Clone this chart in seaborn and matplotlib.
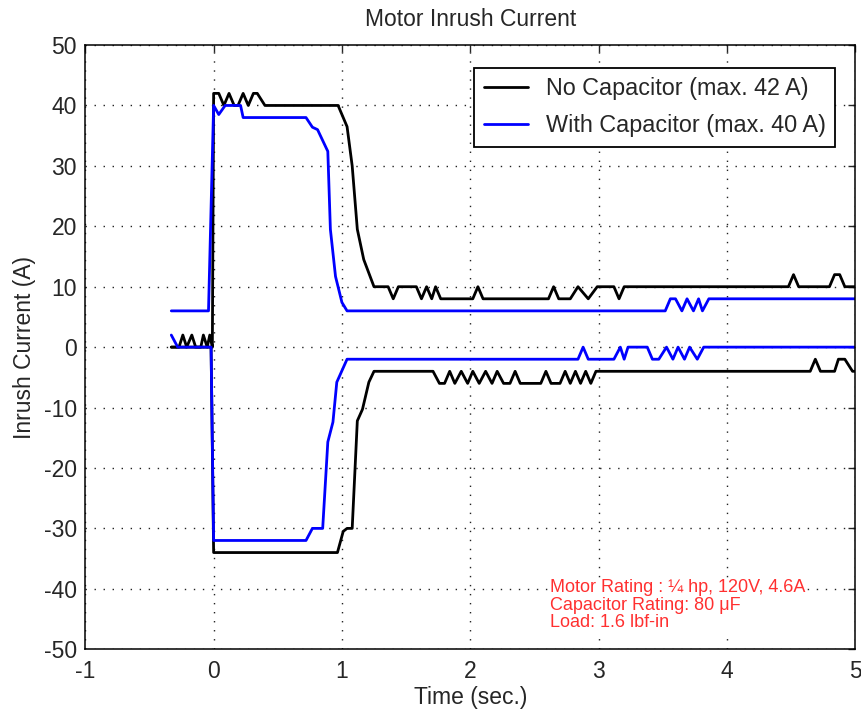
import numpy as np
import pandas as pd
import matplotlib
matplotlib.use('Agg')
import matplotlib.pyplot as plt
import seaborn as sns

# No capacitor, upper and lower envelopes
nc_hi_t = [-0.33, -0.27, -0.24, -0.21, -0.17, -0.14, -0.10, -0.08, -0.05, -0.03, -0.01,
           0.0, 0.04, 0.08, 0.12, 0.16, 0.19, 0.23, 0.27, 0.31, 0.34, 0.40, 0.97,
           1.04, 1.08, 1.12, 1.17, 1.25, 1.36, 1.40, 1.44, 1.58, 1.62, 1.66, 1.70, 1.73,
           1.77, 2.02, 2.06, 2.10, 2.61, 2.65, 2.69, 2.78, 2.84, 2.92, 2.99, 3.12, 3.16,
           3.20, 4.48, 4.52, 4.56, 4.80, 4.84, 4.88, 4.92, 5.0]
nc_hi_v = [0, 0, 2, 0, 2, 0, 0, 2, 0, 2, 0,
           42, 42, 40, 42, 40, 40, 42, 40, 42, 42, 40, 40,
           36.5, 30, 19.5, 14.5, 10, 10, 8, 10, 10, 8, 10, 8, 10,
           8, 8, 10, 8, 8, 10, 8, 8, 10, 8, 10, 10, 8,
           10, 10, 12, 10, 10, 12, 12, 10, 10]

nc_lo_t = [-0.33, -0.02, 0.0, 0.965, 1.01, 1.04, 1.08, 1.12, 1.16, 1.21, 1.25, 1.71,
           1.76, 1.80, 1.84, 1.88, 1.93, 1.98, 2.02, 2.07, 2.12, 2.17, 2.21, 2.26,
           2.31, 2.35, 2.39, 2.55, 2.59, 2.63, 2.70, 2.74, 2.78, 2.82, 2.86, 2.90,
           2.94, 2.98, 4.65, 4.69, 4.73, 4.84, 4.87, 4.92, 4.98, 5.0]
nc_lo_v = [0, 0, -34, -34, -30.5, -30, -30, -12.2, -10.3, -5.8, -4, -4,
           -6, -6, -4, -6, -4, -6, -4, -6, -4, -6, -4, -6,
           -6, -4, -6, -6, -4, -6, -6, -4, -6, -4, -6, -4,
           -6, -4, -4, -2, -4, -4, -2, -2, -4, -4]

# With capacitor, upper and lower envelopes
wc_hi_t = [-0.33, -0.04, 0.0, 0.04, 0.09, 0.21, 0.23, 0.72, 0.77, 0.81, 0.89, 0.91,
           0.95, 1.0, 1.04, 3.52, 3.56, 3.60, 3.65, 3.69, 3.74, 3.78, 3.81, 3.86, 5.0]
wc_hi_v = [6, 6, 40, 38.5, 40, 40, 38, 38, 36.4, 36, 32.4, 19.5,
           11.7, 7.4, 6, 6, 8, 8, 6, 8, 6, 8, 6, 8, 8]

wc_lo_t = [-0.33, -0.28, -0.02, 0.0, 0.72, 0.77, 0.85, 0.89, 0.93, 0.96, 1.04, 2.84,
           2.88, 2.92, 3.12, 3.17, 3.20, 3.23, 3.38, 3.42, 3.47, 3.53, 3.58, 3.62,
           3.67, 3.71, 3.77, 3.82, 5.0]
wc_lo_v = [2, 0, 0, -32, -32, -30, -30, -15.7, -12.4, -5.8, -2, -2,
           0, -2, -2, 0, -2, 0, 0, -2, -2, 0, -2, 0,
           -2, 0, -2, 0, 0]

sns.set_style('white')
plt.rcParams['font.family'] = ['Liberation Sans', 'DejaVu Sans']
plt.rcParams['axes.unicode_minus'] = False

fig = plt.figure(figsize=(8.62, 7.15), dpi=100)
ax = fig.add_axes([0.099, 0.092, 0.893, 0.845])

lw = 2.0
sns.lineplot(x=nc_hi_t, y=nc_hi_v, sort=False, estimator=None, color='black', lw=lw,
             label='No Capacitor (max. 42 A)', ax=ax)
sns.lineplot(x=nc_lo_t, y=nc_lo_v, sort=False, estimator=None, color='black', lw=lw, ax=ax)
sns.lineplot(x=wc_hi_t, y=wc_hi_v, sort=False, estimator=None, color='#0000ff', lw=lw,
             label='With Capacitor (max. 40 A)', ax=ax)
sns.lineplot(x=wc_lo_t, y=wc_lo_v, sort=False, estimator=None, color='#0000ff', lw=lw, ax=ax)

ax.set_xlim(-1, 5)
ax.set_ylim(-50, 50)
ax.set_xticks(range(-1, 6))
ax.set_yticks(range(-50, 51, 10))
ax.grid(True, linestyle=(0, (1, 5.5)), color='#222222', lw=1.0)
ax.tick_params(direction='in', top=True, right=True, length=5, labelsize=16.5, width=1)
ax.tick_params(axis='x', pad=8)
ax.tick_params(axis='y', pad=6)
for s in ax.spines.values():
    s.set_color('black')
    s.set_linewidth(1.1)

ax.set_title('Motor Inrush Current', fontsize=16.5, pad=14)
ax.set_xlabel('Time (sec.)', fontsize=16.5, labelpad=2)
ax.set_ylabel('Inrush Current (A)', fontsize=16.5, labelpad=6)

leg = ax.legend(loc='upper right', fontsize=16.8, fancybox=False, edgecolor='black',
                framealpha=1, handlelength=1.9, handletextpad=0.75, borderpad=0.4,
                labelspacing=0.6, borderaxespad=0.6, bbox_to_anchor=(0.992, 0.985))
leg.get_frame().set_linewidth(1.3)

ax.text(2.62, -38.4, 'Motor Rating : ¼ hp, 120V, 4.6A\nCapacitor Rating: 80 μF\nLoad: 1.6 lbf-in',
        color='#ff3030', fontsize=13, va='top', ha='left', linespacing=1.05,
        bbox=dict(facecolor='white', edgecolor='none', pad=1))

plt.savefig('out.png', dpi=100)
